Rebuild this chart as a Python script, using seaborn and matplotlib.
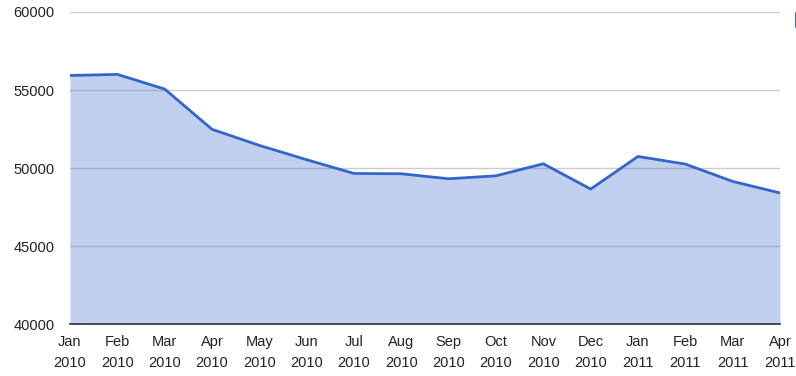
import pandas as pd
import matplotlib.pyplot as plt
import seaborn as sns
from matplotlib.lines import Line2D

# data
months = ['Jan\n2010', 'Feb\n2010', 'Mar\n2010', 'Apr\n2010', 'May\n2010', 'Jun\n2010',
          'Jul\n2010', 'Aug\n2010', 'Sep\n2010', 'Oct\n2010', 'Nov\n2010', 'Dec\n2010',
          'Jan\n2011', 'Feb\n2011', 'Mar\n2011', 'Apr\n2011']
values = [55930, 56000, 55060, 52480, 51450, 50530, 49650, 49630, 49310, 49500,
          50270, 48650, 50740, 50250, 49140, 48400]
y_ticks = [40000, 45000, 50000, 55000, 60000]

df = pd.DataFrame({'pos': range(len(months)), 'value': values})

sns.set_style("white")
plt.rcParams['font.family'] = ['Liberation Sans', 'DejaVu Sans']

fig = plt.figure(figsize=(7.96, 3.76), dpi=100)
ax = fig.add_axes([70 / 796, 1 - 324 / 376, 710 / 796, 312 / 376])

line_color = '#3366cc'
ax.fill_between(df['pos'], df['value'], 40000, color=line_color, alpha=0.3, linewidth=0, zorder=2)
sns.lineplot(data=df, x='pos', y='value', color=line_color, linewidth=2, ax=ax, zorder=3)

ax.set_xlim(0, len(months) - 1)
ax.set_ylim(40000, 60000)
ax.set_yticks(y_ticks)
ax.set_yticklabels([str(v) for v in y_ticks])
ax.set_xticks(range(len(months)))
ax.set_xticklabels(months, linespacing=1.6)
ax.yaxis.grid(True, color='#cccccc', linewidth=1, zorder=1)
ax.set_axisbelow(True)
ax.tick_params(axis='both', length=0, labelsize=10.5, colors='#222222')
ax.tick_params(axis='y', pad=11)
ax.tick_params(axis='x', pad=8)
ax.set_xlabel('')
ax.set_ylabel('')
for side in ['top', 'right', 'left']:
    ax.spines[side].set_visible(False)
ax.spines['bottom'].set_color('#333333')
ax.spines['bottom'].set_linewidth(1.2)
ax.spines['bottom'].set_zorder(4)

# clipped legend marker at the right edge
fig.add_artist(Line2D([795.5 / 796, 795.5 / 796], [1 - 13 / 376, 1 - 27 / 376],
                      color=line_color, linewidth=1.5))

fig.savefig('out.png', dpi=100)
